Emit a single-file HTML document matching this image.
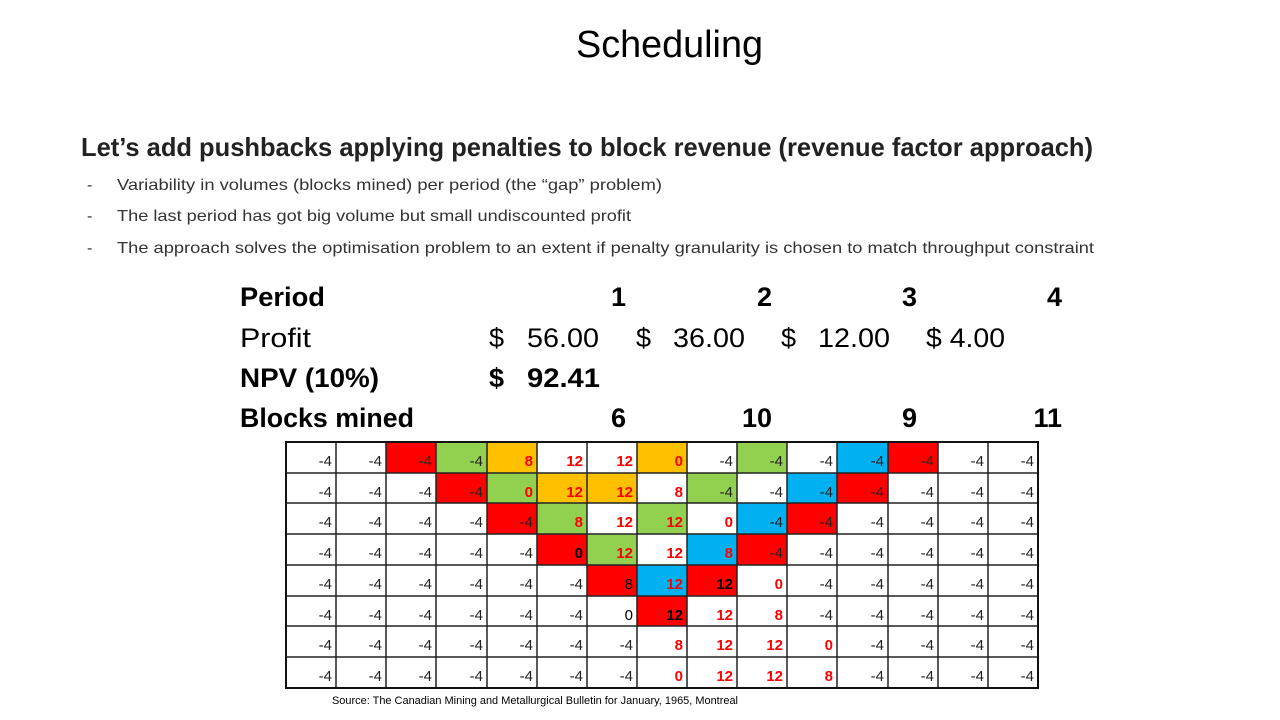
<!DOCTYPE html>
<html><head><meta charset="utf-8"><style>
html,body{margin:0;padding:0;background:#fff;}
svg{display:block;font-family:"Liberation Sans",sans-serif;}
.g text{font-size:15px;text-anchor:end;fill:#222;}
.g text.r{fill:#ff0000;font-weight:bold;}
.g text.b{fill:#000;font-weight:bold;}
.g text.n{fill:#000;}
</style></head><body>
<svg width="1280" height="720" viewBox="0 0 1280 720" xmlns="http://www.w3.org/2000/svg">
<text x="669.5" y="57" font-size="38" text-anchor="middle" textLength="187" lengthAdjust="spacingAndGlyphs">Scheduling</text>
<text x="81" y="156" font-size="26" font-weight="bold" fill="#222" textLength="1012" lengthAdjust="spacingAndGlyphs">Let’s add pushbacks applying penalties to block revenue (revenue factor approach)</text>
<g font-size="16" fill="#333">
<text x="87" y="190">-</text><text x="117" y="190" textLength="545" lengthAdjust="spacingAndGlyphs">Variability in volumes (blocks mined) per period (the “gap” problem)</text>
<text x="87" y="221">-</text><text x="117" y="221" textLength="514" lengthAdjust="spacingAndGlyphs">The last period has got big volume but small undiscounted profit</text>
<text x="87" y="253">-</text><text x="117" y="253" textLength="977" lengthAdjust="spacingAndGlyphs">The approach solves the optimisation problem to an extent if penalty granularity is chosen to match throughput constraint</text>
</g>
<g font-size="27">
<text x="240" y="306" font-weight="bold" textLength="85" lengthAdjust="spacingAndGlyphs">Period</text>
<g font-weight="bold" text-anchor="end"><text x="626" y="306">1</text><text x="772" y="306">2</text><text x="917" y="306">3</text><text x="1062" y="306">4</text></g>
<text x="240" y="347" textLength="71" lengthAdjust="spacingAndGlyphs">Profit</text>
<text x="489" y="347">$</text><text x="527" y="347" textLength="72" lengthAdjust="spacingAndGlyphs">56.00</text>
<text x="636" y="347">$</text><text x="673" y="347" textLength="72" lengthAdjust="spacingAndGlyphs">36.00</text>
<text x="781" y="347">$</text><text x="818" y="347" textLength="72" lengthAdjust="spacingAndGlyphs">12.00</text>
<text x="926" y="347" textLength="79" lengthAdjust="spacingAndGlyphs">$ 4.00</text>
<text x="240" y="387" font-weight="bold" textLength="139" lengthAdjust="spacingAndGlyphs">NPV (10%)</text>
<text x="489" y="387" font-weight="bold">$</text><text x="527" y="387" font-weight="bold" textLength="73" lengthAdjust="spacingAndGlyphs">92.41</text>
<text x="240" y="427" font-weight="bold" textLength="174" lengthAdjust="spacingAndGlyphs">Blocks mined</text>
<g font-weight="bold" text-anchor="end"><text x="626" y="427">6</text><text x="772" y="427">10</text><text x="917" y="427">9</text><text x="1062" y="427">11</text></g>
</g>

<g>
<rect x="386" y="442" width="50" height="31" fill="#ff0000"/>
<rect x="436" y="442" width="51" height="31" fill="#92d050"/>
<rect x="487" y="442" width="50" height="31" fill="#ffc000"/>
<rect x="637" y="442" width="50" height="31" fill="#ffc000"/>
<rect x="737" y="442" width="50" height="31" fill="#92d050"/>
<rect x="837" y="442" width="51" height="31" fill="#00b0f0"/>
<rect x="888" y="442" width="50" height="31" fill="#ff0000"/>

<rect x="436" y="473" width="51" height="30" fill="#ff0000"/>
<rect x="487" y="473" width="50" height="30" fill="#92d050"/>
<rect x="537" y="473" width="50" height="30" fill="#ffc000"/>
<rect x="587" y="473" width="50" height="30" fill="#ffc000"/>
<rect x="687" y="473" width="50" height="30" fill="#92d050"/>
<rect x="787" y="473" width="50" height="30" fill="#00b0f0"/>
<rect x="837" y="473" width="51" height="30" fill="#ff0000"/>

<rect x="487" y="503" width="50" height="31" fill="#ff0000"/>
<rect x="537" y="503" width="50" height="31" fill="#92d050"/>
<rect x="637" y="503" width="50" height="31" fill="#92d050"/>
<rect x="737" y="503" width="50" height="31" fill="#00b0f0"/>
<rect x="787" y="503" width="50" height="31" fill="#ff0000"/>

<rect x="537" y="534" width="50" height="31" fill="#ff0000"/>
<rect x="587" y="534" width="50" height="31" fill="#92d050"/>
<rect x="687" y="534" width="50" height="31" fill="#00b0f0"/>
<rect x="737" y="534" width="50" height="31" fill="#ff0000"/>

<rect x="587" y="565" width="50" height="31" fill="#ff0000"/>
<rect x="637" y="565" width="50" height="31" fill="#00b0f0"/>
<rect x="687" y="565" width="50" height="31" fill="#ff0000"/>

<rect x="637" y="596" width="50" height="30" fill="#ff0000"/>
</g>
<path fill="none" stroke="#222" stroke-width="1.5" d="M336 442V688M386 442V688M436 442V688M487 442V688M537 442V688M587 442V688M637 442V688M687 442V688M737 442V688M787 442V688M837 442V688M888 442V688M938 442V688M988 442V688M286 473H1038M286 503H1038M286 534H1038M286 565H1038M286 596H1038M286 626H1038M286 657H1038"/>
<rect x="286" y="442" width="752" height="246" fill="none" stroke="#111" stroke-width="2"/>

<g class="g" transform="translate(0,2)">
<text x="332" y="464">-4</text><text x="382" y="464">-4</text><text x="432" y="464">-4</text><text x="483" y="464">-4</text><text class="r" x="533" y="464">8</text><text class="r" x="583" y="464">12</text><text class="r" x="633" y="464">12</text><text class="r" x="683" y="464">0</text><text x="733" y="464">-4</text><text x="783" y="464">-4</text><text x="833" y="464">-4</text><text x="884" y="464">-4</text><text x="934" y="464">-4</text><text x="984" y="464">-4</text><text x="1034" y="464">-4</text>
<text x="332" y="495">-4</text><text x="382" y="495">-4</text><text x="432" y="495">-4</text><text x="483" y="495">-4</text><text class="r" x="533" y="495">0</text><text class="r" x="583" y="495">12</text><text class="r" x="633" y="495">12</text><text class="r" x="683" y="495">8</text><text x="733" y="495">-4</text><text x="783" y="495">-4</text><text x="833" y="495">-4</text><text x="884" y="495">-4</text><text x="934" y="495">-4</text><text x="984" y="495">-4</text><text x="1034" y="495">-4</text>
<text x="332" y="525">-4</text><text x="382" y="525">-4</text><text x="432" y="525">-4</text><text x="483" y="525">-4</text><text x="533" y="525">-4</text><text class="r" x="583" y="525">8</text><text class="r" x="633" y="525">12</text><text class="r" x="683" y="525">12</text><text class="r" x="733" y="525">0</text><text x="783" y="525">-4</text><text x="833" y="525">-4</text><text x="884" y="525">-4</text><text x="934" y="525">-4</text><text x="984" y="525">-4</text><text x="1034" y="525">-4</text>
<text x="332" y="556">-4</text><text x="382" y="556">-4</text><text x="432" y="556">-4</text><text x="483" y="556">-4</text><text x="533" y="556">-4</text><text class="b" x="583" y="556">0</text><text class="r" x="633" y="556">12</text><text class="r" x="683" y="556">12</text><text class="r" x="733" y="556">8</text><text x="783" y="556">-4</text><text x="833" y="556">-4</text><text x="884" y="556">-4</text><text x="934" y="556">-4</text><text x="984" y="556">-4</text><text x="1034" y="556">-4</text>
<text x="332" y="587">-4</text><text x="382" y="587">-4</text><text x="432" y="587">-4</text><text x="483" y="587">-4</text><text x="533" y="587">-4</text><text x="583" y="587">-4</text><text class="n" x="633" y="587">8</text><text class="r" x="683" y="587">12</text><text class="b" x="733" y="587">12</text><text class="r" x="783" y="587">0</text><text x="833" y="587">-4</text><text x="884" y="587">-4</text><text x="934" y="587">-4</text><text x="984" y="587">-4</text><text x="1034" y="587">-4</text>
<text x="332" y="618">-4</text><text x="382" y="618">-4</text><text x="432" y="618">-4</text><text x="483" y="618">-4</text><text x="533" y="618">-4</text><text x="583" y="618">-4</text><text class="n" x="633" y="618">0</text><text class="b" x="683" y="618">12</text><text class="r" x="733" y="618">12</text><text class="r" x="783" y="618">8</text><text x="833" y="618">-4</text><text x="884" y="618">-4</text><text x="934" y="618">-4</text><text x="984" y="618">-4</text><text x="1034" y="618">-4</text>
<text x="332" y="648">-4</text><text x="382" y="648">-4</text><text x="432" y="648">-4</text><text x="483" y="648">-4</text><text x="533" y="648">-4</text><text x="583" y="648">-4</text><text x="633" y="648">-4</text><text class="r" x="683" y="648">8</text><text class="r" x="733" y="648">12</text><text class="r" x="783" y="648">12</text><text class="r" x="833" y="648">0</text><text x="884" y="648">-4</text><text x="934" y="648">-4</text><text x="984" y="648">-4</text><text x="1034" y="648">-4</text>
<text x="332" y="679">-4</text><text x="382" y="679">-4</text><text x="432" y="679">-4</text><text x="483" y="679">-4</text><text x="533" y="679">-4</text><text x="583" y="679">-4</text><text x="633" y="679">-4</text><text class="r" x="683" y="679">0</text><text class="r" x="733" y="679">12</text><text class="r" x="783" y="679">12</text><text class="r" x="833" y="679">8</text><text x="884" y="679">-4</text><text x="934" y="679">-4</text><text x="984" y="679">-4</text><text x="1034" y="679">-4</text>
</g>

<text x="332" y="704" font-size="11" textLength="406" lengthAdjust="spacingAndGlyphs">Source: The Canadian Mining and Metallurgical Bulletin for January, 1965, Montreal</text>
</svg>
</body></html>
